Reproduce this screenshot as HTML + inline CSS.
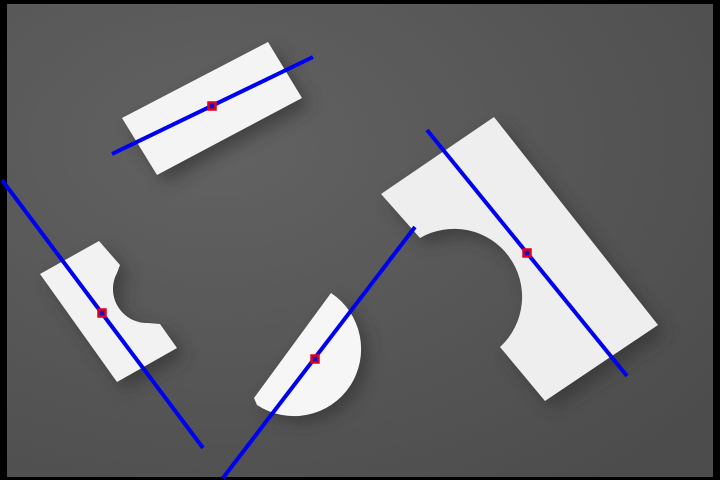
<!DOCTYPE html>
<html><head><meta charset="utf-8"><style>html,body{margin:0;padding:0;background:#000}svg{display:block}</style></head>
<body>
<svg width="720" height="480" viewBox="0 0 720 480" xmlns="http://www.w3.org/2000/svg">
<defs>
<filter id="blur" x="-20%" y="-20%" width="140%" height="140%"><feGaussianBlur stdDeviation="8"/></filter>
<radialGradient id="bg" cx="0.3" cy="0.3" r="0.9"><stop offset="0" stop-color="#626262"/><stop offset="1" stop-color="#4c4c4c"/></radialGradient>
</defs>
<rect x="0" y="0" width="720" height="480" fill="#000"/>
<rect x="7" y="4" width="706" height="473" fill="url(#bg)"/>
<g fill="#2e2e2e" opacity="0.6" filter="url(#blur)">
<path d="M130,126 L276,50 L310,106 L165,183 Z"/>
<path d="M389,202 L502,125 L666,333 L553,409 L508,355 A68 68 0 0 0 428,246 Z"/>
<path d="M48,282 L107,249 L128,273 L125,281 A34 34 0 0 0 156,331 L168,332 L185,356 L125,390 Z"/>
<path d="M339,301 A66 66 0 0 1 265,411 L262,406 Z"/>
</g>
<path d="M122,118 L268,42 L302,98 L157,175 Z" fill="#f4f4f4"/>
<path d="M381,194 L494,117 L658,325 L545,401 L500,347 A68 68 0 0 0 420,238 Z" fill="#eeeeee"/>
<path d="M40,274 L99,241 L120,265 L117,273 A34 34 0 0 0 148,323 L160,324 L177,348 L117,382 Z" fill="#f2f2f2"/>
<path d="M331,293 A66 66 0 0 1 257,405 L254,398 Z" fill="#f6f6f6"/>
<g stroke="#0000f0" stroke-width="4" stroke-linecap="butt">
<line x1="112" y1="154" x2="313" y2="57"/>
<line x1="2" y1="180" x2="203" y2="448"/>
<line x1="223" y1="478" x2="415" y2="227"/>
<line x1="427" y1="130" x2="627" y2="376"/>
</g>
<g fill="#1010c0" stroke="#e00020" stroke-width="2.5">
<rect x="208.5" y="102.5" width="7" height="7"/>
<rect x="98.5" y="309.5" width="7" height="7"/>
<rect x="311.5" y="355.5" width="7" height="7"/>
<rect x="523.5" y="249.5" width="7" height="7"/>
</g>
</svg>
</body></html>
